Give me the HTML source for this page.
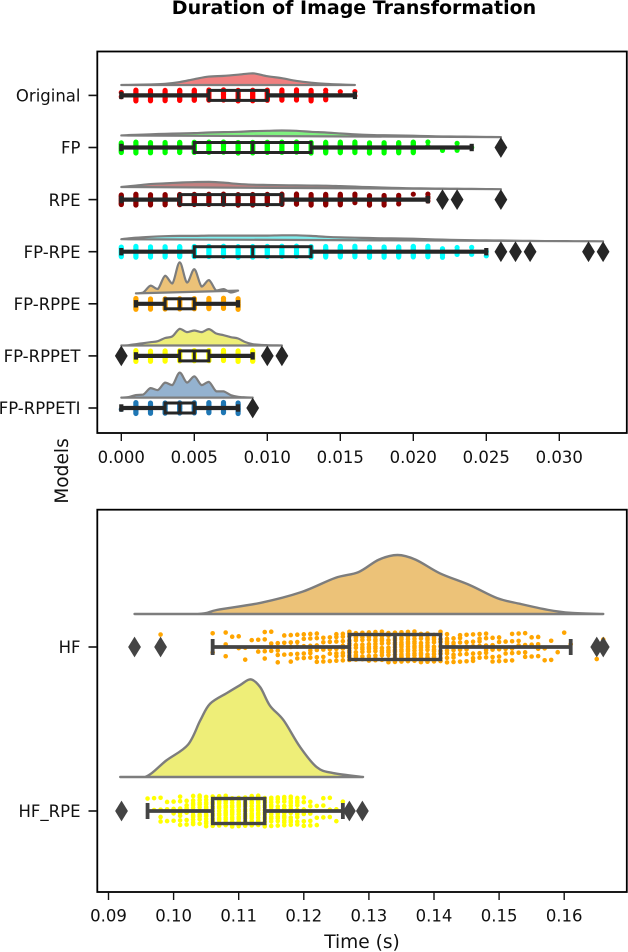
<!DOCTYPE html>
<html lang="en">
<head>
<meta charset="utf-8">
<title>Duration of Image Transformation</title>
<style>
html,body{margin:0;padding:0;background:#fff;}
svg{display:block;font-family:"DejaVu Sans","Liberation Sans",sans-serif;filter:blur(0.35px);}
</style>
</head>
<body>
<svg id="chart" xmlns="http://www.w3.org/2000/svg" width="628" height="952" viewBox="0 0 628 952">
<rect x="0" y="0" width="628" height="952" fill="#fff"/>
<text x="354" y="14" text-anchor="middle" font-size="19" font-weight="bold" fill="#000">Duration of Image Transformation</text>
<text transform="translate(68,471) rotate(-90)" text-anchor="middle" font-size="18.6" fill="#111">Models</text>
<text x="362" y="948" text-anchor="middle" font-size="18.6" fill="#111">Time (s)</text>
</svg>
<script>
// ---------- top panel data ----------
const topCategories = ['Original','FP','RPE','FP-RPE','FP-RPPE','FP-RPPET','FP-RPPETI'];
const topTicks = [0, 0.005, 0.010, 0.015, 0.020, 0.025, 0.030];
const topTickLabels = ['0.000','0.005','0.010','0.015','0.020','0.025','0.030'];
const topColors = ['#ff0000','#00ff00','#8b0000','#00ffff','#ffa500','#ffff00','#1f77b4'];
const topKdeColors = ['#f08080','#80f080','#c58080','#80f0f0','#ecc278','#eeee78','#94b2cf'];

const topQ1 = [0.006,0.005,0.004,0.005,0.003,0.004,0.003];
const topMedian = [0.008,0.009,0.007,0.009,0.004,0.005,0.004];
const topQ3 = [0.010,0.013,0.011,0.013,0.005,0.006,0.005];
const topWhiskerLow = [0,0,0,0,0.001,0.001,0];
const topWhiskerHigh = [0.016,0.024,0.021,0.025,0.008,0.009,0.008];
const topOutliers = [[],[0.026],[0.022,0.023,0.026],[0.026,0.027,0.028,0.032,0.033],[],[0,0.010,0.011],[0.009]];

// number of samples at each 0.001 s bin, starting at 0.000
const countsOriginal = [2,14,14,14,14,14,14,14,14,14,14,14,14,14,7,1,2];
const countsFP = [12,14,14,14,14,14,14,14,14,14,14,14,14,14,14,14,14,14,14,14,14,2,1,2,1,0,1];
const countsRPE = [12,14,14,14,14,14,14,14,14,14,14,14,14,14,14,14,5,9,9,5,1,4,0,0,0,0,0];
const countsFPRPE = [12,14,14,14,14,14,14,14,14,14,14,14,14,14,14,14,14,14,14,14,14,14,7,3,3,2];
const countsFPRPPE = [0,14,14,14,14,14,14,14,14];
const countsFPRPPET = [1,14,14,14,14,14,14,14,14,14];
const countsFPRPPETI = [1,14,14,14,14,14,14,14,14];

// density curves: peak-relative density on a regular x grid
const kdeStepCoarse = 0.001;
const kdeStepFine = 0.0005;
const densOriginal = [0,.02,.05,.1,.25,.5,.72,.78,.88,1,.75,.58,.35,.2,.1,.04,0];
const densFP = [.25,.35,.42,.5,.55,.6,.7,.75,.8,.9,.95,1,.95,.8,.7,.55,.42,.33,.28,.24,.2,.15,.1,.08,.06,.02,0];
const densRPE = [.3,.5,.7,.8,.9,.98,1,.9,.72,.62,.58,.55,.52,.5,.48,.42,.35,.28,.22,.16,.12,.1,.08,.06,.04,.02,0];
const densFPRPE = [.35,.6,.75,.85,.9,.9,.95,.95,.95,.95,.95,1,1,.9,.75,.65,.6,.55,.5,.48,.42,.35,.28,.22,.18,.15,.13,.1,.07,.04,.03,.02,.02,0];
const densFPRPPE = [0,.03,.25,.14,.57,.32,1,.35,.78,.22,.43,.09,.14,.03,.09];
const densFPRPPET = [0,.02,.08,.14,.2,.26,.45,.55,1,.8,.9,.8,.98,.72,.62,.5,.42,.2,.08,.04,.02,.01,0];
const densFPRPPETI = [0,.02,.1,.12,.38,.3,.6,.5,1,.6,.85,.5,.63,.25,.25,.1,.03,.01,0];
const topKdeStart = [0,0,0,0,0.001,0,0];
const topKdeStep = [kdeStepCoarse,kdeStepCoarse,kdeStepCoarse,kdeStepCoarse,kdeStepFine,kdeStepFine,kdeStepFine];
const topKdeValues = [densOriginal,densFP,densRPE,densFPRPE,densFPRPPE,densFPRPPET,densFPRPPETI];
const topKdeScale = [11.7,6.6,7.3,6,31,16.7,25];
const topCounts = [countsOriginal,countsFP,countsRPE,countsFPRPE,countsFPRPPE,countsFPRPPET,countsFPRPPETI];

// ---------- bottom panel data ----------
const botCategories = ['HF','HF_RPE'];
const botTicks = [0.09,0.10,0.11,0.12,0.13,0.14,0.15,0.16];
const botTickLabels = ['0.09','0.10','0.11','0.12','0.13','0.14','0.15','0.16'];
const botColors = ['#ffa500','#ffff00'];
const botKdeColors = ['#ecc278','#eeee78'];
const botQ1 = [0.127,0.106];
const botMedian = [0.134,0.111];
const botQ3 = [0.141,0.114];
const botWhiskerLow = [0.106,0.096];
const botWhiskerHigh = [0.161,0.126];
const botOutliers = [[0.094,0.098,0.165,0.166],[0.092,0.127,0.129]];
const hfBinStart = 0.094;
const hfCounts = [1,0,0,0,1,0,0,0,0,0,0,0,2,0,3,1,2,2,1,2,4,3,4,3,5,5,5,6,6,5,5,7,8,12,10,9,11,12,10,10,13,15,13,13,12,12,11,9,9,7,6,6,6,6,6,5,5,4,5,4,4,3,4,2,2,1,1,1,0,0,0,2,1];
const rpeBinStart = 0.092;
const rpeCounts = [1,0,0,0,1,2,4,3,4,7,6,11,11,13,14,14,15,15,15,15,15,15,13,11,11,12,12,10,6,5,3,3,3,2,1,1,0,0];
const hfKdeX = [.094,.1037,.1067,.1134,.1196,.1248,.1284,.1315,.1344,.1372,.1409,.1455,.1497,.1533,.1575,.161,.166];
const hfKdeY = [0,0,.07,.19,.37,.61,.71,.92,1,.92,.69,.49,.27,.17,.07,.02,0];
const rpeKdeX = [.0918,.0956,.0989,.1022,.1041,.1056,.1082,.1102,.1118,.1133,.1148,.1169,.1194,.122,.1245,.1291];
const rpeKdeY = [0,0,.17,.33,.58,.75,.86,.94,1,.92,.73,.58,.31,.1,.04,0];
const botKdeX = [hfKdeX,rpeKdeX];
const botKdeY = [hfKdeY,rpeKdeY];
const botKdeScale = [59,97.7];

// ---------- axis functions ----------
const svg = document.getElementById('chart');
const NS = 'http://www.w3.org/2000/svg';
const xTop = v => 121.3 + v * 14600;
const yTop = i => 95.4 + i * 52.1;
const xBot = v => 108.5 + (v - 0.09) * 6510;
const yBot = i => 647 + i * 164;

function make(tag, attrs, parent) {
  const el = document.createElementNS(NS, tag);
  for (const k in attrs) el.setAttribute(k, attrs[k]);
  parent.appendChild(el);
  return el;
}
function curve(pts) {
  let d = 'M' + pts[0][0].toFixed(2) + ' ' + pts[0][1].toFixed(2);
  for (let i = 0; i < pts.length - 1; i++) {
    const p0 = pts[Math.max(i - 1, 0)], p1 = pts[i], p2 = pts[i + 1], p3 = pts[Math.min(i + 2, pts.length - 1)];
    const lo = Math.min(p1[1], p2[1]), hi = Math.max(p1[1], p2[1]);
    const c1y = Math.min(hi, Math.max(lo, p1[1] + (p2[1] - p0[1]) / 6));
    const c2y = Math.min(hi, Math.max(lo, p2[1] - (p3[1] - p1[1]) / 6));
    const c1x = p1[0] + (p2[0] - p0[0]) / 6, c2x = p2[0] - (p3[0] - p1[0]) / 6;
    d += 'C' + c1x.toFixed(2) + ' ' + c1y.toFixed(2) + ' ' + c2x.toFixed(2) + ' ' + c2y.toFixed(2) + ' ' + p2[0].toFixed(2) + ' ' + p2[1].toFixed(2);
  }
  return d;
}

function drawKde(g, xs, ys, xFn, base, scale, fill, strokeW, label) {
  const pts = xs.map((x, i) => [xFn(x), base - ys[i] * scale]);
  const d = curve(pts) + 'Z';
  const p = make('path', {d: d, fill: fill, stroke: '#7d7d7d', 'stroke-width': strokeW, 'stroke-linejoin': 'round'}, g);
  
  
}
function drawDots(g, start, counts, xFn, cy, spread, r, color, label) {
  counts.forEach((n, b) => {
    for (let i = 0; i < n; i++) {
      // layout-only jitter inside the strip
      const f = ((i + 1) * 0.61803 + b * 0.37) % 1;
      const c = make('circle', {cx: xFn(start + b * 0.001).toFixed(2), cy: (cy + spread * (2 * f - 1)).toFixed(2), r: r, fill: color}, g);
      
      
    }
  });
}
function drawBox(g, xFn, cy, q1, med, q3, lo, hi, outliers, opts, label) {
  const col = opts.color, lw = opts.lw;
  const line = (x1, y1, x2, y2, name, w) => {
    const l = make('line', {x1: x1, y1: y1, x2: x2, y2: y2, stroke: col, 'stroke-width': w}, g);
    
    
  };
  line(xFn(lo), cy, xFn(q1), cy, 'whisker-low-' + label, lw);
  line(xFn(q3), cy, xFn(hi), cy, 'whisker-high-' + label, lw);
  line(xFn(lo), cy - opts.cap, xFn(lo), cy + opts.cap, 'cap-low-' + label, lw);
  line(xFn(hi), cy - opts.cap, xFn(hi), cy + opts.cap, 'cap-high-' + label, lw);
  const b = make('rect', {x: xFn(q1), y: cy - opts.box, width: xFn(q3) - xFn(q1), height: 2 * opts.box, fill: 'none', stroke: col, 'stroke-width': opts.boxLw}, g);
  
  
  line(xFn(med), cy - opts.box, xFn(med), cy + opts.box, 'median-' + label, opts.boxLw);
  outliers.forEach(v => {
    const x = xFn(v);
    const o = make('polygon', {points: (x - 6.4) + ',' + cy + ' ' + x + ',' + (cy - 10.4) + ' ' + (x + 6.4) + ',' + cy + ' ' + x + ',' + (cy + 10.4), fill: col}, g);
    
    
  });
}
function drawFrame(x, y, w, h, label) {
  const r = make('rect', {x: x, y: y, width: w, height: h, fill: 'none', stroke: '#000', 'stroke-width': 1.8}, svg);
  
  
}
function xAxis(values, labels, xFn, bottom, baseline, label) {
  values.forEach((v, i) => {
    const t = make('line', {x1: xFn(v), x2: xFn(v), y1: bottom, y2: bottom + 8, stroke: '#111', 'stroke-width': 1.4}, svg);
    
    
    const s = make('text', {x: xFn(v), y: baseline, 'text-anchor': 'middle', 'font-size': 16.5, fill: '#111'}, svg);
    s.textContent = labels[i];
    
    
  });
}
function yAxis(cats, yFn, label) {
  cats.forEach((c, i) => {
    const y = yFn(i);
    const t = make('line', {x1: 88.5, x2: 97, y1: y, y2: y, stroke: '#111', 'stroke-width': 1.6}, svg);
    
    
    const s = make('text', {x: 80.5, y: y + 6.2, 'text-anchor': 'end', 'font-size': 16.5, fill: '#111'}, svg);
    s.textContent = c;
    
    
  });
}

// ---------- top panel ----------
const gTop = make('g', {}, svg);


topCategories.forEach((cat, i) => {
  const cy = yTop(i);
  const xs = topKdeValues[i].map((_, k) => topKdeStart[i] + k * topKdeStep[i]);
  drawKde(gTop, xs, topKdeValues[i], xTop, cy - 10.4, topKdeScale[i], topKdeColors[i], 2.2, cat);
  drawDots(gTop, 0, topCounts[i], xTop, cy, 5.6, 2.6, topColors[i], cat);
  drawBox(gTop, xTop, cy, topQ1[i], topMedian[i], topQ3[i], topWhiskerLow[i], topWhiskerHigh[i], topOutliers[i],
    {color: '#262626', lw: 4.2, cap: 3.7, box: 5, boxLw: 3}, cat);
});
drawFrame(97.3, 51.5, 529.5, 381.5, 'top-panel');
yAxis(topCategories, yTop, 'top');
xAxis(topTicks, topTickLabels, xTop, 433, 463, 'top');

// ---------- bottom panel ----------
const gBot = make('g', {}, svg);


botCategories.forEach((cat, i) => {
  const cy = yBot(i);
  const base = i === 0 ? 614 : 777;
  drawKde(gBot, botKdeX[i], botKdeY[i], xBot, base, botKdeScale[i], botKdeColors[i], 2.4, cat);
  drawDots(gBot, i === 0 ? hfBinStart : rpeBinStart, i === 0 ? hfCounts : rpeCounts, xBot, cy, 15.5, 2.3, botColors[i], cat);
  drawBox(gBot, xBot, cy, botQ1[i], botMedian[i], botQ3[i], botWhiskerLow[i], botWhiskerHigh[i], botOutliers[i],
    {color: '#444444', lw: 3.8, cap: 8, box: 12.5, boxLw: 3.4}, cat);
});
drawFrame(97.3, 509.7, 529.5, 382.3, 'bottom-panel');
yAxis(botCategories, yBot, 'bottom');
xAxis(botTicks, botTickLabels, xBot, 892, 921.7, 'bottom');
</script>
</body>
</html>
